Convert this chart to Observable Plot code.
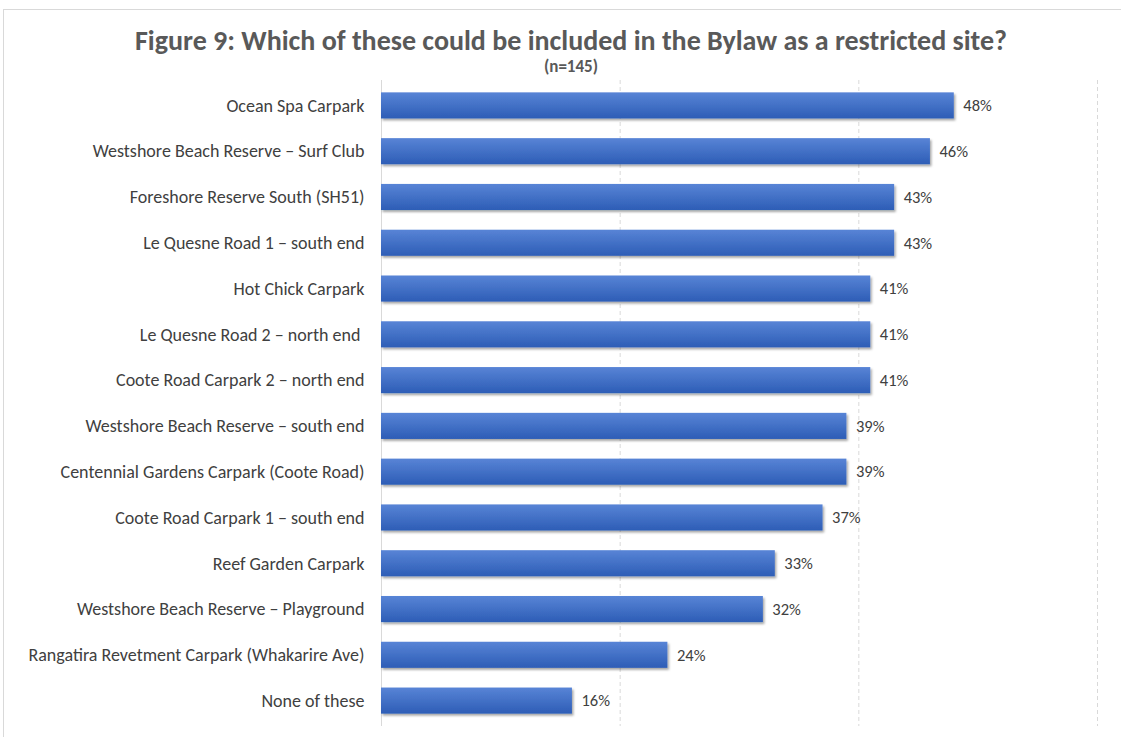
<!DOCTYPE html>
<html>
<head>
<meta charset="utf-8">
<script src="https://cdn.jsdelivr.net/npm/d3@7"></script>
<script src="https://cdn.jsdelivr.net/npm/@observablehq/plot@0.6"></script>
<style>
  html, body { margin: 0; padding: 0; background: #fff; }
  body { width: 1121px; height: 737px; overflow: hidden; position: relative; font-family: Carlito, Lato, "Open Sans", sans-serif; }
  #frame { position: absolute; left: 3px; top: 9px; width: 1200px; height: 800px; border-top: 1px solid #d9d9d9; border-left: 1px solid #d9d9d9; }
  #title { position: absolute; left: 0; width: 1142px; top: 25px; text-align: center; font-size: 28px; font-weight: bold; color: #595959; line-height: 32px; white-space: nowrap; }
  #subtitle { position: absolute; left: 0; width: 1142px; top: 57px; text-align: center; font-size: 17px; font-weight: bold; color: #595959; line-height: 20px; }
  #chart { position: absolute; left: 0; top: 80px; }
</style>
</head>
<body>
<div id="frame"></div>
<div id="title">Figure 9: Which of these could be included in the Bylaw as a restricted site?</div>
<div id="subtitle">(n=145)</div>
<div id="chart"></div>
<script>
const sites = [
  "Ocean Spa Carpark",
  "Westshore Beach Reserve – Surf Club",
  "Foreshore Reserve South (SH51)",
  "Le Quesne Road 1 – south end",
  "Hot Chick Carpark",
  "Le Quesne Road 2 – north end\u00a0",
  "Coote Road Carpark 2 – north end",
  "Westshore Beach Reserve – south end",
  "Centennial Gardens Carpark (Coote Road)",
  "Coote Road Carpark 1 – south end",
  "Reef Garden Carpark",
  "Westshore Beach Reserve – Playground",
  "Rangatira Revetment Carpark (Whakarire Ave)",
  "None of these"
];
const values = [48, 46, 43, 43, 41, 41, 41, 39, 39, 37, 33, 32, 24, 16];
const gridTicks = [20, 40, 60];

const data = sites.map((s, i) => ({site: s, value: values[i]}));

const chart = Plot.plot({
  width: 1121,
  height: 657,
  marginLeft: 381,
  marginRight: 24,
  marginTop: 0,
  marginBottom: 11,
  style: {fontFamily: "Carlito, Lato, 'Open Sans', sans-serif", color: "#404040", background: "transparent"},
  x: {domain: [0, 60], axis: null},
  y: {domain: sites, paddingInner: 0.43, paddingOuter: 0.27, round: false, axis: null},
  marks: [
    Plot.ruleX(gridTicks, {stroke: "#d9d9d9", strokeDasharray: "4,3", strokeWidth: 1}),
    Plot.ruleX([0], {stroke: "#d9d9d9", strokeWidth: 1}),
    Plot.axisY({tickSize: 0, tickPadding: 17, fontSize: 18, fill: "#404040", label: null}),
    Plot.barX(data, {x: "value", y: "site", fill: "url(#barGrad)"}),
    Plot.text(data, {x: "value", y: "site", text: d => d.value + "%", textAnchor: "start", dx: 9, fill: "#404040", fontSize: 16.5})
  ]
});

// gradient + shadow defs
const ns = "http://www.w3.org/2000/svg";
const defs = document.createElementNS(ns, "defs");
defs.innerHTML = `
  <linearGradient id="barGrad" x1="0" y1="0" x2="0" y2="1">
    <stop offset="0" stop-color="#5884d6"/>
    <stop offset="1" stop-color="#2d5db6"/>
  </linearGradient>
  <filter id="barShadow" x="-5%" y="-20%" width="110%" height="160%">
    <feDropShadow dx="1.5" dy="2" stdDeviation="1.2" flood-color="#000" flood-opacity="0.35"/>
  </filter>`;
chart.insertBefore(defs, chart.firstChild);
chart.querySelectorAll("g[aria-label='bar'] rect").forEach(r => r.setAttribute("filter", "url(#barShadow)"));
document.getElementById("chart").appendChild(chart);
</script>
</body>
</html>
